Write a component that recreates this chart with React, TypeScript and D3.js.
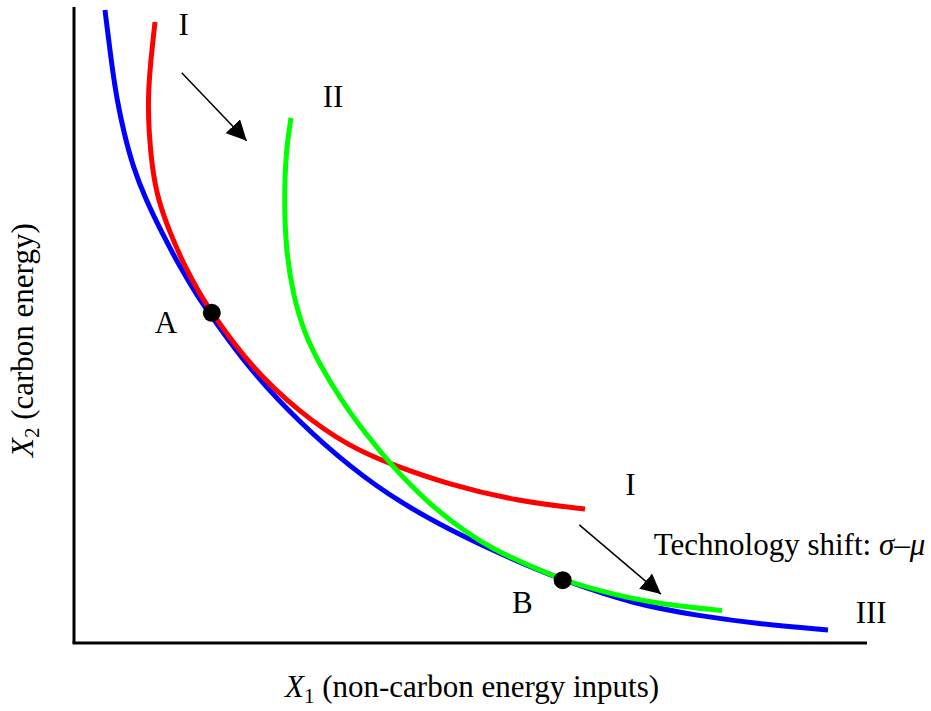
import React from 'react';
import * as d3 from 'd3';

type Pt = [number, number];

// isoquant curves (x = X1, y = X2, both 0..100)
const curveIII: Pt[] = [
  [3.91, 99.69], [4.80, 90.71], [5.43, 85.51], [6.31, 80.31], [7.45, 74.96],
  [9.09, 69.76], [11.11, 64.57], [13.38, 59.21], [15.66, 54.49], [17.42, 51.34],
  [22.22, 43.0], [28.54, 34.65], [34.85, 27.72], [41.16, 22.05], [49.62, 16.38],
  [57.95, 11.81], [61.74, 9.92], [70.58, 6.14], [79.04, 4.25], [86.62, 2.99], [95.20, 2.05],
];
const curveI: Pt[] = [
  [10.23, 97.80], [9.60, 90.71], [9.34, 85.51], [9.47, 80.31], [9.85, 74.96],
  [10.61, 69.76], [12.12, 64.57], [14.02, 59.21], [15.91, 54.96], [17.42, 51.97],
  [22.22, 43.62], [28.54, 36.22], [34.85, 30.87], [39.90, 28.19], [47.47, 24.88],
  [55.93, 22.36], [64.52, 21.10],
];
const curveII: Pt[] = [
  [27.40, 82.68], [26.77, 77.64], [26.52, 69.76], [26.77, 61.89], [27.65, 54.80],
  [29.17, 48.50], [31.06, 43.78], [33.71, 38.27], [36.74, 33.07], [40.03, 28.03],
  [44.95, 21.73], [49.62, 17.32], [52.90, 14.80], [57.58, 12.13], [61.74, 9.92],
  [66.41, 8.19], [72.73, 6.30], [81.82, 5.10],
];

const points = [
  { name: 'A', at: [17.4, 52.0] as Pt, label: [10.2, 48.8] as Pt },
  { name: 'B', at: [61.7, 9.9] as Pt, label: [55.3, 4.7] as Pt },
];

const arrows: [Pt, Pt][] = [
  [[13.6, 89.8], [21.8, 79.1]],
  [[63.8, 18.6], [74.1, 7.7]],
];

const curveLabels = [
  { text: 'I', at: [13.2, 95.8] as Pt },
  { text: 'II', at: [31.4, 84.4] as Pt },
  { text: 'I', at: [69.6, 23.3] as Pt },
  { text: 'III', at: [98.7, 3.2] as Pt },
];

const W = 931;
const H = 711;
const margin = { left: 74, top: 8, right: 65, bottom: 68 };
const font = '"Liberation Serif", "Times New Roman", serif';
const fs = 31;

export default function App() {
  const x = d3.scaleLinear().domain([0, 100]).range([margin.left, W - margin.right]);
  const y = d3.scaleLinear().domain([0, 100]).range([H - margin.bottom, margin.top]);

  // B-spline smooths out the small reading errors in the traced points
  const line = d3
    .line<Pt>()
    .x(d => x(d[0]))
    .y(d => y(d[1]))
    .curve(d3.curveBasis);

  const series = [
    { data: curveIII, color: '#0000ff' },
    { data: curveI, color: '#ff0000' },
    { data: curveII, color: '#00ff00' },
  ];

  return (
    <svg
      width={W}
      height={H}
      style={{ position: 'absolute', left: 0, top: 0, background: '#fff' }}
      fontFamily={font}
      fontSize={fs}
    >
      <defs>
        <marker
          id="head"
          viewBox="0 0 20 20"
          refX={20}
          refY={10}
          markerWidth={20}
          markerHeight={20}
          markerUnits="userSpaceOnUse"
          orient="auto"
        >
          <path d="M0,0 L20,10 L0,20 Z" fill="#000" />
        </marker>
      </defs>

      {/* axes */}
      <line x1={x(0)} x2={x(0)} y1={y(100) - 1} y2={y(0)} stroke="#000" strokeWidth={3} />
      <line x1={x(0) - 1.5} x2={x(100) + 1} y1={y(0)} y2={y(0)} stroke="#000" strokeWidth={3} />

      {series.map((s, i) => (
        <path key={i} d={line(s.data) || ''} fill="none" stroke={s.color} strokeWidth={5} />
      ))}

      {arrows.map(([a, b], i) => (
        <line
          key={i}
          x1={x(a[0])}
          y1={y(a[1])}
          x2={x(b[0])}
          y2={y(b[1])}
          stroke="#000"
          strokeWidth={1.5}
          markerEnd="url(#head)"
        />
      ))}

      {points.map(p => (
        <g key={p.name}>
          <circle cx={x(p.at[0])} cy={y(p.at[1])} r={9} fill="#000" />
          <text x={x(p.label[0])} y={y(p.label[1])}>{p.name}</text>
        </g>
      ))}

      {curveLabels.map((l, i) => (
        <text key={i} x={x(l.at[0])} y={y(l.at[1])}>{l.text}</text>
      ))}

      <text x={x(73.2)} y={y(13.9)}>
        Technology shift: <tspan fontStyle="italic">σ</tspan>–<tspan fontStyle="italic">μ</tspan>
      </text>

      {/* axis titles */}
      <text x={285} y={697}>
        <tspan fontStyle="italic">X</tspan>
        <tspan fontSize={21} dy={6}>1</tspan>
        <tspan dy={-6}> (non-carbon energy inputs)</tspan>
      </text>
      <text transform="translate(33,457) rotate(-90)">
        <tspan fontStyle="italic">X</tspan>
        <tspan fontSize={21} dy={6}>2</tspan>
        <tspan dy={-6}> (carbon energy)</tspan>
      </text>
    </svg>
  );
}
